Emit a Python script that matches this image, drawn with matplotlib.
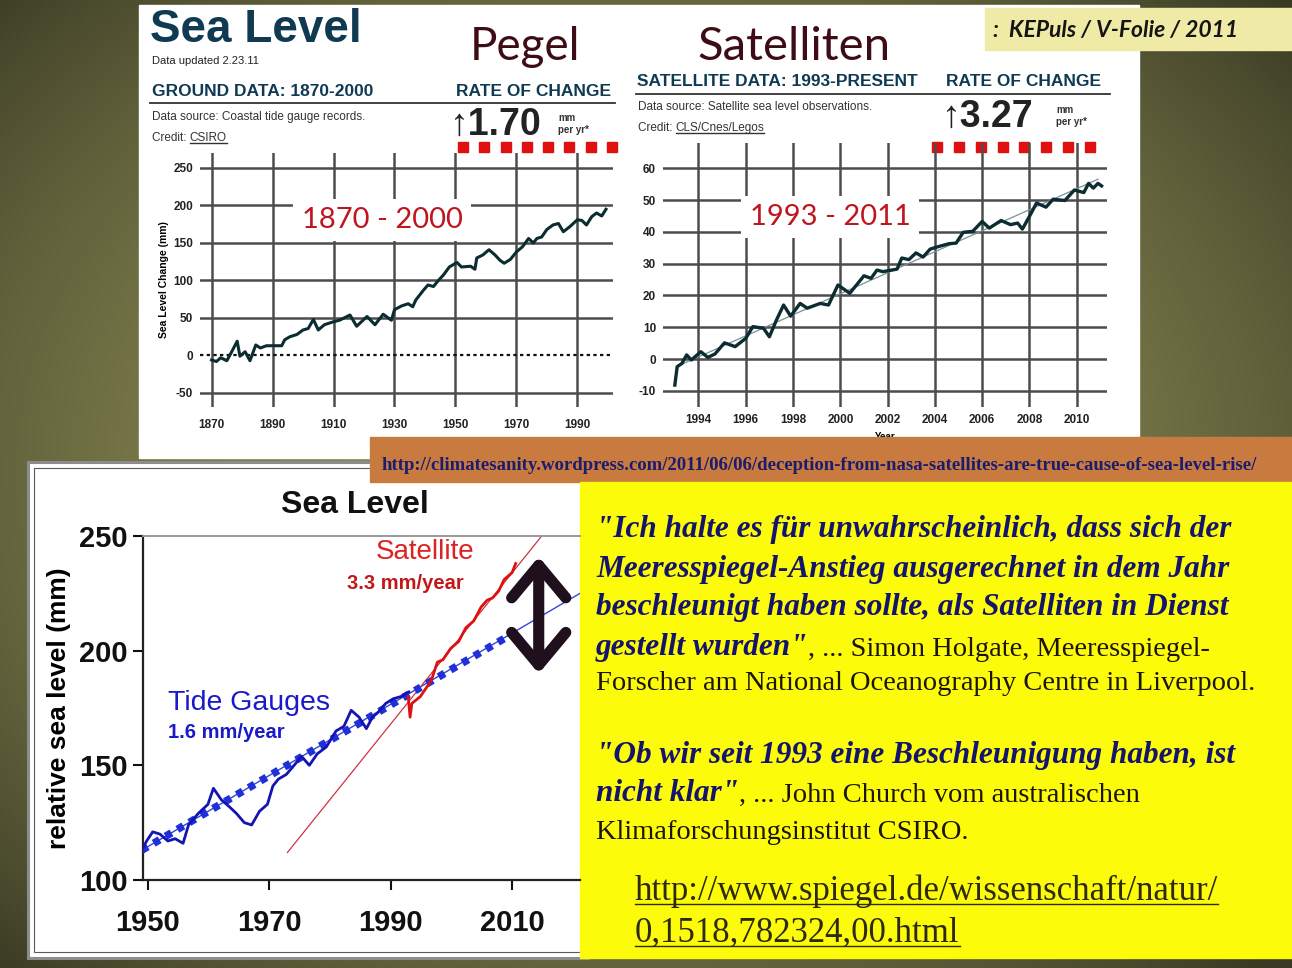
import numpy as np
import matplotlib.pyplot as plt
from matplotlib.patches import Rectangle
from matplotlib.lines import Line2D

W, H = 1292, 968

# --- data ---
# top left: tide gauge record 1870-2000 (mm)
ground_years = [1870, 1871.6, 1873, 1875, 1876.6, 1878.4, 1879.3, 1881, 1882.6, 1884.5,
                1886, 1888, 1891.3, 1893, 1894, 1895.7, 1898, 1900, 1901.7, 1903.4,
                1905, 1907, 1910, 1912, 1915.4, 1917.6, 1921, 1923.6, 1926.3, 1929,
                1930, 1932.3, 1934.5, 1936, 1937, 1939.5, 1941, 1942.8, 1944.4, 1946,
                1948, 1950.5, 1952, 1955, 1956.4, 1957, 1959, 1961, 1963, 1964.6,
                1966, 1968, 1970, 1972, 1974, 1975.6, 1976.7, 1978.3, 1980, 1982,
                1983.8, 1985.4, 1987.6, 1990, 1991.5, 1993, 1994.7, 1996.3, 1998, 1999.4]
ground_mm = [-6, -8, -3, -7, 5, 19, -1, 5, -7, 14,
             10, 13, 13, 13, 21, 25, 28, 34, 36, 48,
             34, 41, 45, 47, 54, 39, 52, 41, 55, 47,
             61, 66, 69, 65, 74, 87, 94, 92, 100, 107,
             118, 124, 118, 119, 115, 130, 134, 141, 134, 127,
             123, 128, 138, 145, 156, 150, 156, 158, 168, 174,
             176, 165, 172, 181, 180, 174, 185, 190, 186, 195]
ground_xticks = [1870, 1890, 1910, 1930, 1950, 1970, 1990]
ground_yticks = [-50, 0, 50, 100, 150, 200, 250]

# top right: satellite altimetry 1993-2011 (mm)
sat_years = [1993.0, 1993.1, 1993.3, 1993.5, 1993.7, 1994.1, 1994.4, 1994.7, 1995.1, 1995.55,
             1996.0, 1996.3, 1996.75, 1997.0, 1997.3, 1997.6, 1997.9, 1998.3, 1998.6, 1999.15,
             1999.5, 1999.9, 2000.4, 2001.0, 2001.3, 2001.55, 2001.8, 2002.4, 2002.6, 2002.9,
             2003.2, 2003.5, 2003.8, 2004.2, 2004.6, 2004.9, 2005.2, 2005.6, 2006.0, 2006.3,
             2006.8, 2007.2, 2007.5, 2007.7, 2008.0, 2008.3, 2008.7, 2009.0, 2009.5, 2009.9,
             2010.3, 2010.5, 2010.7, 2010.9, 2011.05]
sat_mm = [-8.2, -2.4, -1.4, 1.3, -0.3, 2.3, 0.5, 1.6, 5.1, 3.9,
          6.5, 10.2, 9.7, 7.0, 12.3, 17.0, 13.5, 17.5, 16.0, 17.5,
          17.0, 23.3, 20.7, 26.2, 25.4, 28.0, 27.5, 28.3, 31.8, 31.3,
          33.4, 32.1, 34.6, 35.5, 36.3, 36.5, 39.9, 40.2, 43.3, 41.2,
          43.6, 42.3, 42.8, 40.9, 44.9, 49.1, 47.8, 50.3, 49.9, 53.2,
          52.4, 55.3, 53.8, 55.3, 54.5]
sat_trend_years = [1993.1, 2010.9]
sat_trend_mm = [-2.3, 56.6]
sat_xticks = [1994, 1996, 1998, 2000, 2002, 2004, 2006, 2008, 2010]
sat_yticks = [-10, 0, 10, 20, 30, 40, 50, 60]

# bottom left: tide gauges vs satellite
tide_years = [1949, 1949.8, 1950.8, 1952, 1953.3, 1954.5, 1955.8, 1956.7, 1958.3, 1959.9,
              1960.8, 1962.1, 1963.4, 1964.6, 1965.9, 1967.1, 1968.4, 1969.7, 1970.6, 1971.5,
              1972.8, 1974.1, 1975.3, 1976.6, 1977.9, 1979.4, 1981.0, 1982.3, 1983.5, 1984.8,
              1986.0, 1987.0, 1987.9, 1989.2, 1990.4, 1991.7, 1993.0]
tide_mm = [113, 117, 121, 120, 117, 118, 116, 124, 129, 133,
           140, 135, 132, 129, 125, 124, 130, 133, 141, 144,
           146, 150, 154, 150, 155, 158, 165, 167, 174, 171,
           166, 171, 173, 177, 179, 180, 182]
tide_trend_years = [1949, 2021.2]
tide_trend_mm = [113, 225]
tide_dot_years = [1949, 2009.5]
tide_dot_mm = [113, 206.5]
alt_years = [1992.9, 1993.2, 1993.5, 1994.9, 1996.7, 1997.7, 1998.6, 1999.9, 2001.2,
             2002.4, 2003.7, 2004.9, 2005.9, 2006.8, 2007.8, 2008.7, 2010.0, 2010.6]
alt_mm = [180, 171, 177, 180, 187, 195, 196, 201, 204,
          210, 213, 219, 222, 223, 226, 231, 234, 238]
alt_trend_years = [1973, 2015.5]
alt_trend_mm = [112, 252]
gap_year = 2014.4
gap_mm = [190, 241]
low_xticks = [1950, 1970, 1990, 2010]
low_yticks = [100, 150, 200, 250]

quote_lines = [
    ('"Ich halte es für unwahrscheinlich, dass sich der', ''),
    ('Meeresspiegel-Anstieg ausgerechnet in dem Jahr', ''),
    ('beschleunigt haben sollte, als Satelliten in Dienst', ''),
    ('gestellt wurden"', ', ... Simon Holgate, Meeresspiegel-'),
    ('', 'Forscher am National Oceanography Centre in Liverpool.'),
    ('"Ob wir seit 1993 eine Beschleunigung haben, ist', ''),
    ('nicht klar"', ', ... John Church vom australischen'),
    ('', 'Klimaforschungsinstitut CSIRO.'),
]
quote_baselines = [537, 577, 615, 655, 690, 763, 801, 839]
spiegel_url = ['http://www.spiegel.de/wissenschaft/natur/', '0,1518,782324,00.html']
blog_url = 'http://climatesanity.wordpress.com/2011/06/06/deception-from-nasa-satellites-are-true-cause-of-sea-level-rise/'

SANS = ['Liberation Sans', 'DejaVu Sans']
SERIF = ['Liberation Serif', 'DejaVu Serif']
CAL = ['Lato', 'DejaVu Sans']
TEAL = '#0f3a52'

fig = plt.figure(figsize=(W / 100, H / 100), dpi=100)


def px_axes(x0, y0, x1, y1):
    return fig.add_axes([x0 / W, 1 - y1 / H, (x1 - x0) / W, (y1 - y0) / H])


def pixel_layer():
    a = fig.add_axes([0, 0, 1, 1])
    a.set_xlim(0, W)
    a.set_ylim(H, 0)
    a.axis('off')
    a.patch.set_alpha(0)
    return a


# --- background slide ---
bg = pixel_layer()
yy, xx = np.mgrid[0:H:4, 0:W:4]
r = np.clip(np.hypot((xx - 620) / 900, (yy - 470) / 700), 0, 1) ** 2
light = np.array([140, 140, 85]) / 255
dark = np.array([58, 58, 36]) / 255
bg.imshow(light + (dark - light) * r[..., None], extent=(0, W, H, 0), aspect='auto', zorder=0)
bg.add_patch(Rectangle((139, 5), 1000, 453, color='white', zorder=1))
bg.add_patch(Rectangle((985, 8), 307, 42, color='#efeba6', zorder=2))
bg.text(993, 30, ':  KEPuls / V-Folie / 2011', fontsize=16.5, fontweight='bold', style='italic',
        family=CAL, color='#151515', va='center', zorder=3)

# header, ground data
bg.text(150, 30, 'Sea Level', fontsize=33, fontweight='bold', family=SANS, color=TEAL, va='center', zorder=3)
bg.text(152, 61, 'Data updated 2.23.11', fontsize=8, family=SANS, color='#222222', va='center', zorder=3)
bg.text(470, 47, 'Pegel', fontsize=33, family=CAL, color='#3d0c14', va='center', zorder=3)
bg.text(697, 47, 'Satelliten', fontsize=34, family=CAL, color='#3d0c14', va='center', zorder=3)

bg.text(152, 91, 'GROUND DATA: 1870-2000', fontsize=12.5, fontweight='bold', family=SANS, color=TEAL, va='center', zorder=3)
bg.text(456, 91, 'RATE OF CHANGE', fontsize=12.5, fontweight='bold', family=SANS, color=TEAL, va='center', zorder=3)
bg.plot([150, 615], [103, 103], color='#333333', lw=1.3, zorder=3)
bg.text(152, 117, 'Data source: Coastal tide gauge records.', fontsize=8.5, family=SANS, color='#333333', va='center', zorder=3)
cred1 = bg.text(152, 138, 'Credit: ', fontsize=8.5, family=SANS, color='#333333', va='center', zorder=3)
under = [bg.annotate('CSIRO', xy=(1, 0), xycoords=cred1, va='bottom', fontsize=8.5, family=SANS,
                     color='#333333', zorder=3)]
bg.text(450, 125, '↑1.70', fontsize=27, fontweight='bold', family=SANS, color='#222222', va='center', zorder=3)
bg.text(558, 118, 'mm', fontsize=7, fontweight='bold', family=SANS, color='#333333', va='center', zorder=3)
bg.text(558, 130, 'per yr*', fontsize=7, fontweight='bold', family=SANS, color='#333333', va='center', zorder=3)

# header, satellite data
bg.text(637, 82, 'SATELLITE DATA: 1993-PRESENT', fontsize=12.5, fontweight='bold', family=SANS, color=TEAL, va='center', zorder=3)
bg.text(946, 82, 'RATE OF CHANGE', fontsize=12.5, fontweight='bold', family=SANS, color=TEAL, va='center', zorder=3)
bg.plot([636, 1110], [94, 94], color='#333333', lw=1.3, zorder=3)
bg.text(638, 107, 'Data source: Satellite sea level observations.', fontsize=8.5, family=SANS, color='#333333', va='center', zorder=3)
cred2 = bg.text(638, 128, 'Credit: ', fontsize=8.5, family=SANS, color='#333333', va='center', zorder=3)
under.append(bg.annotate('CLS/Cnes/Legos', xy=(1, 0), xycoords=cred2, va='bottom', fontsize=8.5, family=SANS,
                         color='#333333', zorder=3))
bg.text(942, 117, '↑3.27', fontsize=27, fontweight='bold', family=SANS, color='#222222', va='center', zorder=3)
bg.text(1056, 110, 'mm', fontsize=7, fontweight='bold', family=SANS, color='#333333', va='center', zorder=3)
bg.text(1056, 122, 'per yr*', fontsize=7, fontweight='bold', family=SANS, color='#333333', va='center', zorder=3)

bg.plot(np.linspace(463, 612, 8), [147] * 8, 's', ms=7.5, color='#e01010', zorder=4)
bg.plot(np.linspace(937, 1090, 8), [147] * 8, 's', ms=7.5, color='#e01010', zorder=4)

GRID = '#4d4d4d'

# --- top left chart ---
ax1 = px_axes(200, 153, 613, 407)
ax1.patch.set_alpha(0)
ax1.set_xlim(1866.2, 2001.7)
ax1.set_ylim(-68.7, 270)
for v in ground_xticks:
    ax1.axvline(v, color=GRID, lw=1.8, zorder=1)
for h in ground_yticks:
    if h == 0:
        ax1.axhline(h, color='#111111', lw=1.6, ls=(0, (1.5, 1.5)), zorder=1)
    else:
        ax1.axhline(h, color=GRID, lw=1.8, zorder=1)
ax1.plot(ground_years, ground_mm, color='#0b2c30', lw=2.2, zorder=3)
ax1.set_xticks(ground_xticks, [str(t) for t in ground_xticks], fontweight='bold', family=SANS)
ax1.set_yticks(ground_yticks, [str(t) for t in ground_yticks], fontweight='bold', family=SANS)
ax1.tick_params(length=0, labelsize=8.5, colors='#222222')
ax1.tick_params(axis='x', pad=9)
ax1.tick_params(axis='y', pad=5)
ax1.set_ylabel('Sea Level Change (mm)', fontsize=7.5, fontweight='bold', family=SANS, labelpad=3)
for s in ax1.spines.values():
    s.set_visible(False)
ax1.text(1925.9, 180.7, '1870 - 2000', fontsize=21, family=CAL, color='#c0141e', ha='center', va='center',
         zorder=2, bbox=dict(facecolor='white', edgecolor='none', pad=6))

# --- top right chart ---
ax2 = px_axes(663, 143, 1107, 407)
ax2.patch.set_alpha(0)
ax2.set_xlim(1992.5, 2011.28)
ax2.set_ylim(-15.1, 68)
for v in sat_xticks:
    ax2.axvline(v, color=GRID, lw=1.8, zorder=1)
for h in sat_yticks:
    ax2.axhline(h, color=GRID, lw=1.8, zorder=1)
ax2.plot(sat_trend_years, sat_trend_mm, color='#7d8f96', lw=0.9, zorder=3)
ax2.plot(sat_years, sat_mm, color='#0b2c30', lw=2.4, zorder=4)
ax2.set_xticks(sat_xticks, [str(t) for t in sat_xticks], fontweight='bold', family=SANS)
ax2.set_yticks(sat_yticks, [str(t) for t in sat_yticks], fontweight='bold', family=SANS)
ax2.tick_params(length=0, labelsize=8.5, colors='#222222')
ax2.tick_params(axis='x', pad=5)
ax2.tick_params(axis='y', pad=5)
ax2.set_xlabel('Year', fontsize=7, fontweight='bold', family=SANS, labelpad=4)
for s in ax2.spines.values():
    s.set_visible(False)
ax2.text(1999.57, 44.7, '1993 - 2011', fontsize=21, family=CAL, color='#c0141e', ha='center', va='center',
         zorder=2, bbox=dict(facecolor='white', edgecolor='none', pad=6))

# --- overlay: lower panel, link bar, yellow box ---
mid = pixel_layer()
mid.add_patch(Rectangle((28, 462), 560, 496, facecolor='white', edgecolor='#8c8c8c', lw=2.2))
mid.add_patch(Rectangle((34, 468), 560, 484, facecolor='none', edgecolor='#5a5a5a', lw=0.8))
mid.add_patch(Rectangle((370, 437), 922, 45, color='#c97b3f'))
mid.text(382, 465, blog_url, fontsize=13.5, fontweight='bold', family=SERIF, color='#1c1c6e', va='center')
mid.add_patch(Rectangle((580, 482), 712, 476, color='#fbfb0a'))

quote_style = dict(fontsize=22.5, fontweight='bold', style='italic', family=SERIF, color='#14146c')
plain_style = dict(fontsize=20.5, family=SERIF, color='#1c1408')
for (first, second), yb in zip(quote_lines, quote_baselines):
    if first:
        t1 = mid.text(596, yb, first, va='baseline', **quote_style)
        if second:
            mid.annotate(second, xy=(1, 0), xycoords=t1, va='bottom', ha='left', **plain_style)
    else:
        mid.text(596, yb, second, va='baseline', **plain_style)
for line, yb in zip(spiegel_url, [900, 942]):
    under.append(mid.text(635, yb, line, va='baseline', fontsize=25, family=SERIF, color='#2e2a12'))

# --- bottom left chart ---
ax3 = px_axes(143, 536, 580, 880)
ax3.patch.set_alpha(0)
ax3.set_xlim(1949.2, 2021.2)
ax3.set_ylim(100, 250)
ax3.plot(tide_trend_years, tide_trend_mm, color='#3344dd', lw=1.0, zorder=2)
ax3.plot(tide_dot_years, tide_dot_mm, color='#1f30d8', lw=5.5, ls=(0, (0.9, 0.9)), zorder=3)
ax3.plot(tide_years, tide_mm, color='#1414b4', lw=2.0, zorder=4)
ax3.plot(alt_trend_years, alt_trend_mm, color='#cc3344', lw=0.9, zorder=2)
ax3.plot(alt_years, alt_mm, color='#dd1111', lw=2.0, zorder=4)
ax3.annotate('', xy=(gap_year, gap_mm[1]), xytext=(gap_year, gap_mm[0]),
             arrowprops=dict(arrowstyle='<->, head_length=0.9, head_width=0.75', lw=8,
                             mutation_scale=26, color='#20101e', shrinkA=0, shrinkB=0))
ax3.set_xticks(low_xticks, [str(t) for t in low_xticks], fontweight='bold', family=SANS)
ax3.set_yticks(low_yticks, [str(t) for t in low_yticks], fontweight='bold', family=SANS)
ax3.tick_params(labelsize=21, length=7, width=1.5, direction='out', colors='#111111')
ax3.tick_params(axis='x', pad=14)
ax3.tick_params(axis='y', pad=4)
ax3.set_ylabel('relative sea level (mm)', fontsize=19, fontweight='bold', family=SANS, labelpad=6)
for side in ['left', 'bottom']:
    ax3.spines[side].set_color('#222222')
    ax3.spines[side].set_linewidth(1.6)
ax3.spines['top'].set_color('#999999')
ax3.spines['top'].set_linewidth(1.4)
ax3.spines['right'].set_visible(False)
ax3.text(0.485, 1.09, 'Sea Level', transform=ax3.transAxes, fontsize=23, fontweight='bold', family=SANS,
         ha='center', va='center', color='#111111')
ax3.text(1995.7, 243, 'Satellite', fontsize=20, family=SANS, color='#dd2222', ha='center', va='center')
ax3.text(1992.5, 229.5, '3.3 mm/year', fontsize=14.5, fontweight='bold', family=SANS, color='#c41818',
         ha='center', va='center')
ax3.text(1953.3, 177.2, 'Tide Gauges', fontsize=20.5, family=SANS, color='#1a1ac8', ha='left', va='center')
ax3.text(1953.3, 164.5, '1.6 mm/year', fontsize=14.5, fontweight='bold', family=SANS, color='#1a1ac8',
         ha='left', va='center')

# underline the link texts
fig.canvas.draw()
renderer = fig.canvas.get_renderer()
for t in under:
    bb = t.get_window_extent(renderer)
    yline = bb.y0 + bb.height * 0.12
    fig.add_artist(Line2D([bb.x0 / W, bb.x1 / W], [yline / H, yline / H], transform=fig.transFigure,
                          color=t.get_color(), lw=1.0))

fig.savefig('out.png', dpi=100)
